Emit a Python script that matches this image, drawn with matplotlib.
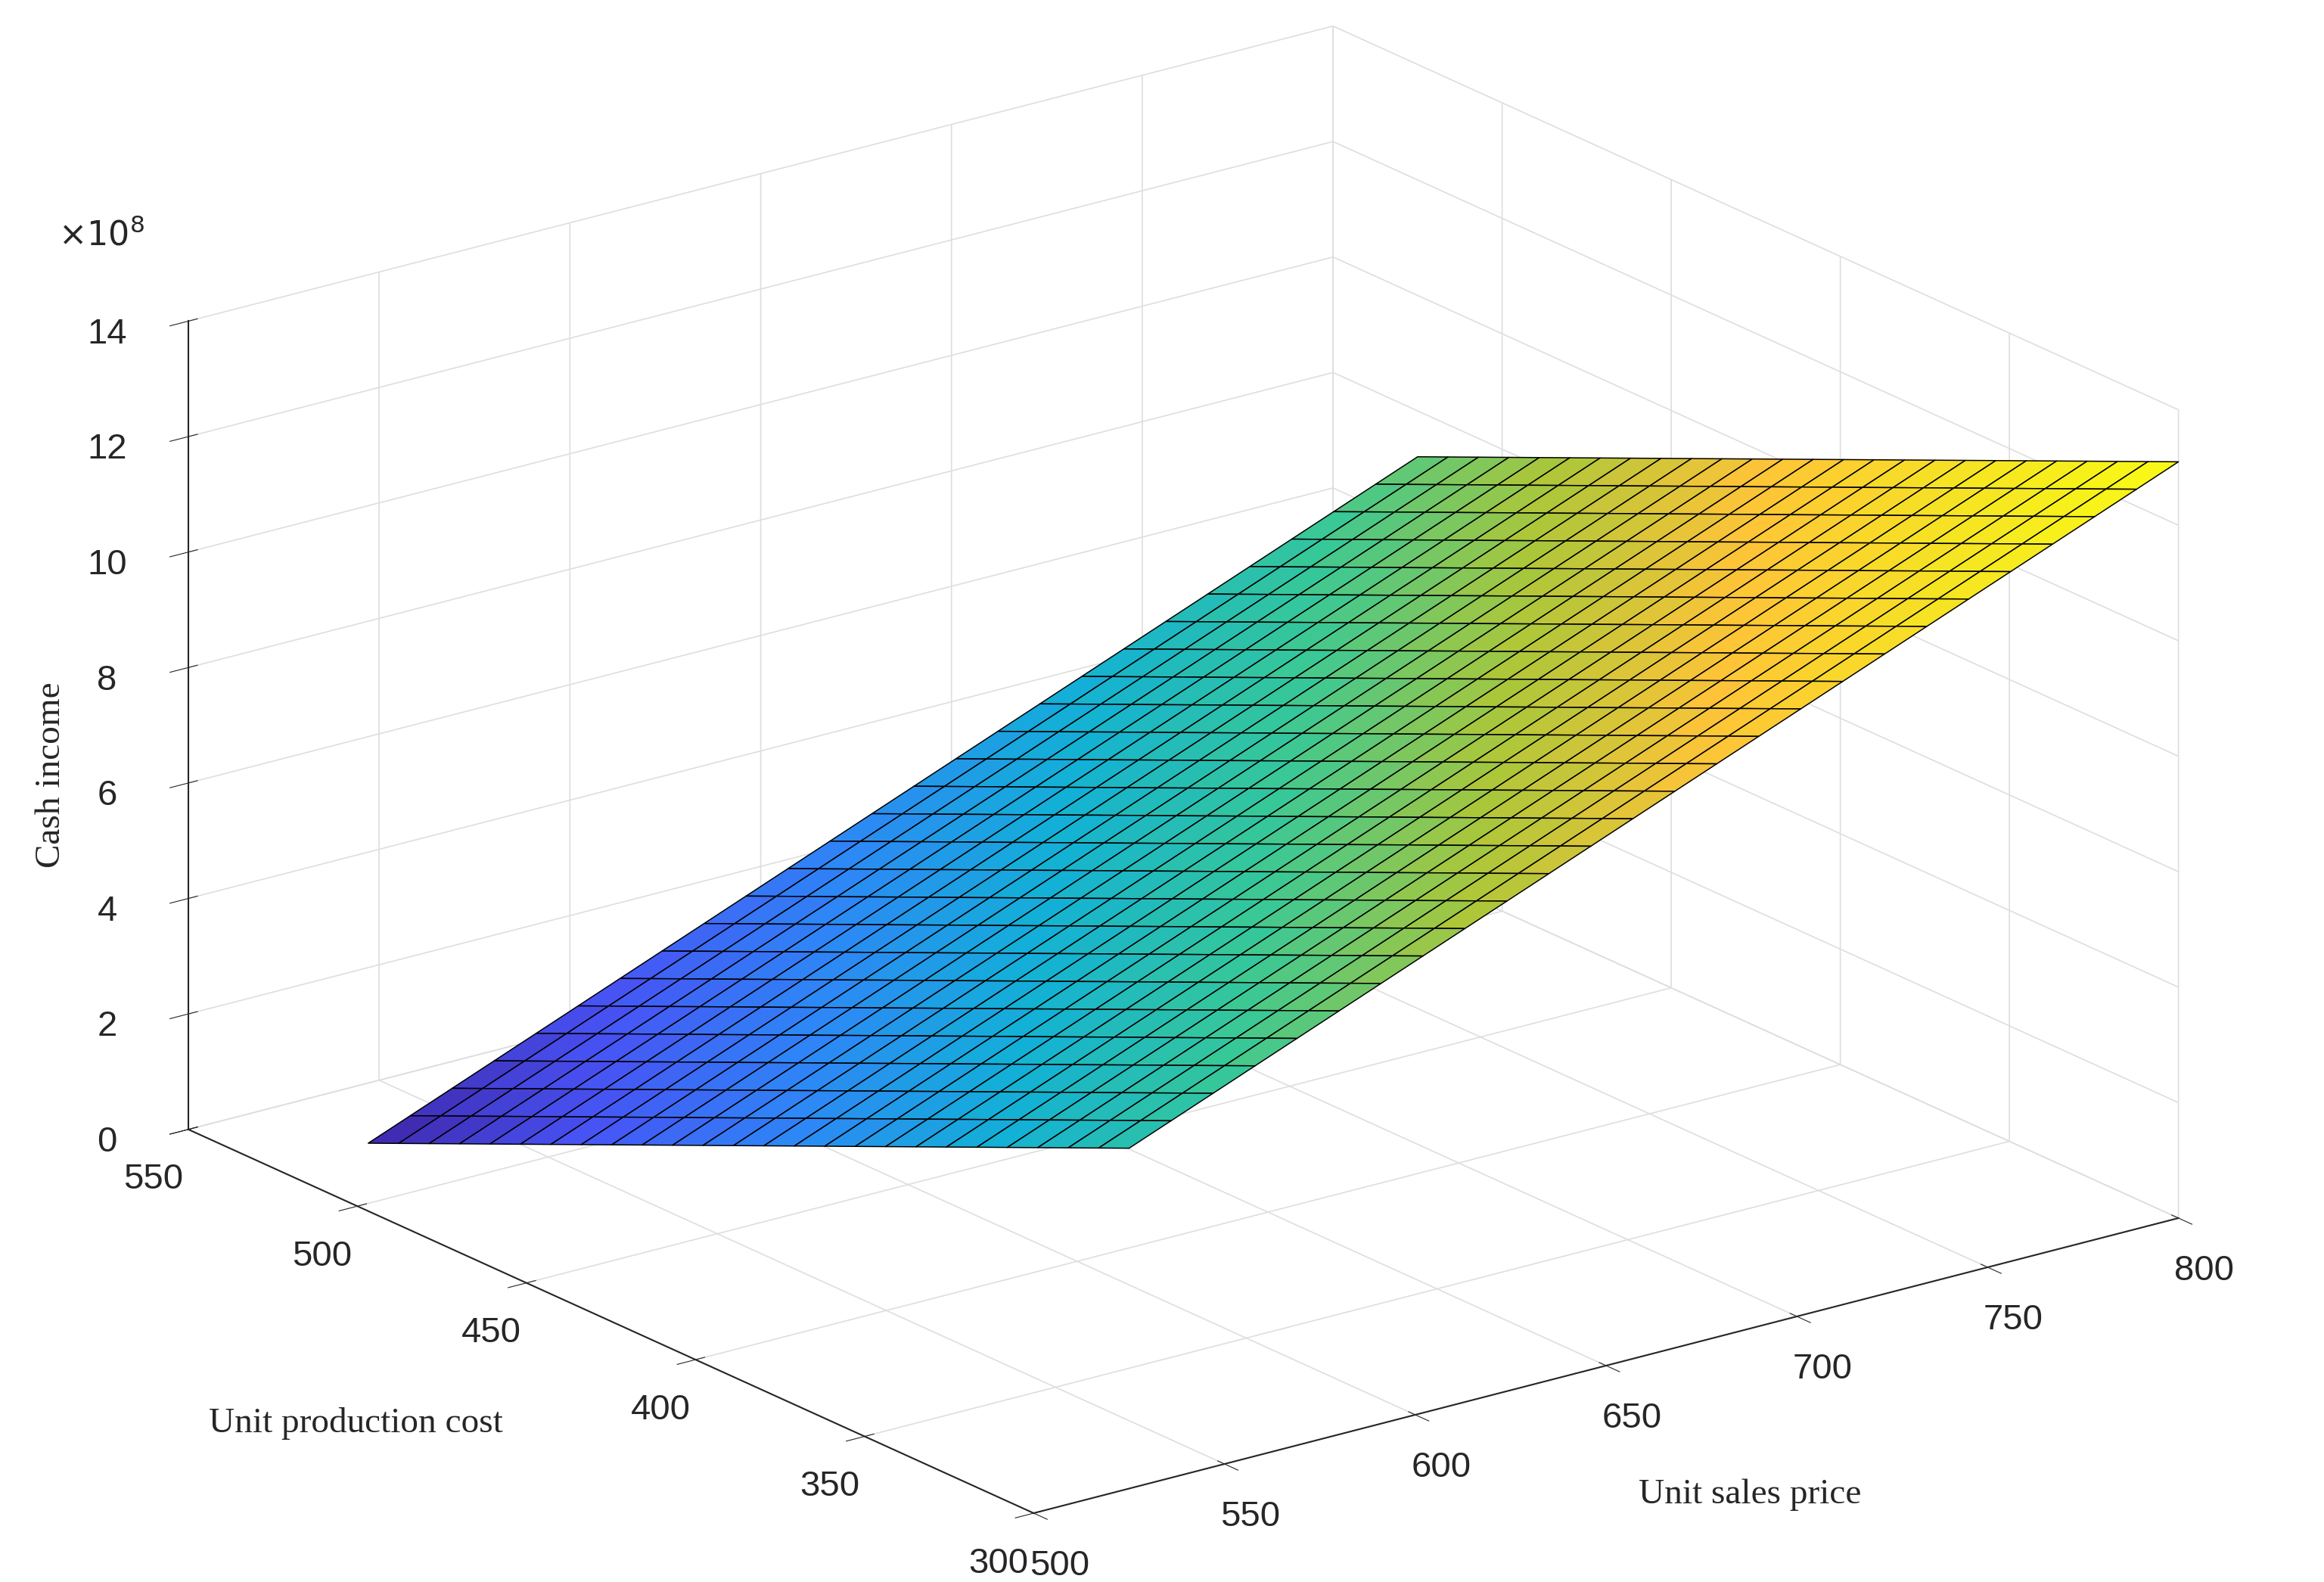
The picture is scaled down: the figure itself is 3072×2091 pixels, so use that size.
import numpy as np
import matplotlib
matplotlib.use("Agg")
import matplotlib.pyplot as plt
from matplotlib.colors import LinearSegmentedColormap

# Data: cash income = Q * (price - cost)
price = np.linspace(525, 800, 26)
cost = np.linspace(300, 525, 26)
quantity = 2.62e6
x_ticks = [500, 550, 600, 650, 700, 750, 800]
y_ticks = [300, 350, 400, 450, 500, 550]
z_ticks = [0, 2, 4, 6, 8, 10, 12, 14]

parula = LinearSegmentedColormap.from_list("parula", [
    (0.2422, 0.1504, 0.6603), (0.2810, 0.3228, 0.9578), (0.1786, 0.5289, 0.9682),
    (0.0689, 0.6948, 0.8394), (0.2161, 0.7843, 0.5923), (0.6720, 0.7793, 0.2227),
    (0.9970, 0.7659, 0.2199), (0.9619, 0.8949, 0.1336), (0.9769, 0.9839, 0.0805)])

P, C = np.meshgrid(price, cost)
Z = quantity * (P - C) / 1e8

plt.rcParams["font.family"] = ["Liberation Sans", "DejaVu Sans"]
fig = plt.figure(figsize=(30.72, 20.91), dpi=100)
ax = fig.add_axes([0.0, 0.0, 1.0, 1.0], projection="3d")
ax.set_proj_type("ortho")
norm = plt.Normalize(Z.min(), Z.max())
surf = ax.plot_surface(P, C, Z, facecolors=parula(norm(Z)), edgecolor="black",
                       linewidth=1.1, shade=False, rstride=1, cstride=1)
surf.set_clip_on(False)
ax.set_xlim(500, 800); ax.set_ylim(300, 550); ax.set_zlim(0, 14)
ax.set_xticks(x_ticks); ax.set_yticks(y_ticks); ax.set_zticks(z_ticks)
ax.view_init(elev=20, azim=-127)
ax.set_box_aspect((1.0, 0.98, 0.6), zoom=1.34)
for a in (ax.xaxis, ax.yaxis, ax.zaxis):
    a.set_pane_color((1, 1, 1, 0))
    a._axinfo["grid"]["color"] = (0.87, 0.87, 0.87, 1)
    a._axinfo["grid"]["linewidth"] = 1.2
    a.line.set_color("#262626")
    a.line.set_linewidth(1.5)
ax.tick_params(labelsize=34, pad=16, colors="#262626")
ax.tick_params(axis="z", pad=24)
lab = dict(family="Liberation Serif", fontsize=34, color="#262626")
fig.text(0.705, 0.055, "Unit sales price", ha="left", va="center", **lab)
fig.text(0.09, 0.10, "Unit production cost", ha="left", va="center", **lab)
fig.text(0.022, 0.51, "Cash income", ha="center", va="center", rotation=90, **lab)
fig.text(0.025, 0.845, r"$\times10^{8}$", fontsize=32, color="#262626")
fig.savefig("out.png", dpi=100, facecolor="white")
